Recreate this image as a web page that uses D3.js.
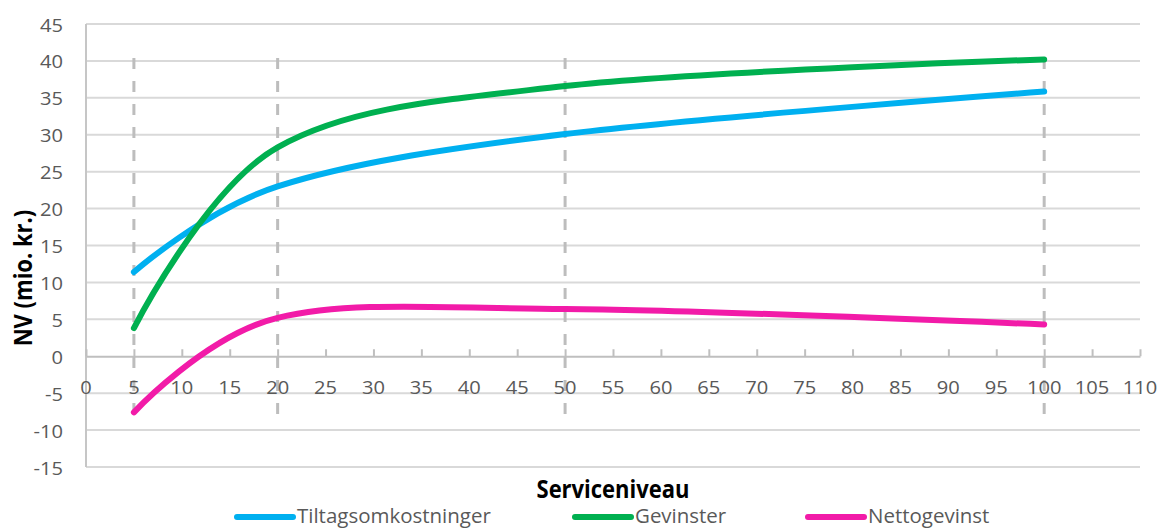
<!DOCTYPE html>
<html>
<head>
<meta charset="utf-8">
<script src="https://cdn.jsdelivr.net/npm/d3@7"></script>
<style>
  html, body { margin: 0; padding: 0; background: #fff; }
  svg { display: block; }
  text { font-family: "Open Sans", "Noto Sans", sans-serif; }
</style>
</head>
<body>
<svg id="chart" width="1160" height="529"></svg>
<script>
// Service level (x) at which each scenario was evaluated
const serviceLevels = [5, 20, 50, 100];

// Present value in million DKK per series
const tiltagsomkostninger = [11.4, 23.0, 30.1, 35.85];
const gevinster = [3.8, 28.3, 36.6, 40.2];
const nettogevinst = [-7.6, 5.2, 6.4, 4.3];

const seriesNames = ["Tiltagsomkostninger", "Gevinster", "Nettogevinst"];
const seriesValues = [tiltagsomkostninger, gevinster, nettogevinst];
const seriesColors = ["#00B0F0", "#00B050", "#F21BA8"];

// Axis ticks
const xTicks = [0, 5, 10, 15, 20, 25, 30, 35, 40, 45, 50, 55, 60, 65, 70, 75, 80, 85, 90, 95, 100, 105, 110];
const yTicks = [-15, -10, -5, 0, 5, 10, 15, 20, 25, 30, 35, 40, 45];

// Vertical reference lines at the evaluated service levels (value span)
const guideSpan = [-8.4, 40.4];

const xTitle = "Serviceniveau";
const yTitle = "NV (mio. kr.)";

const svg = d3.select("#chart");
const plot = { left: 86, right: 1140, top: 24, bottom: 467 };

const x = d3.scaleLinear().domain([0, 110]).range([plot.left, plot.right]);
const y = d3.scaleLinear().domain([-15, 45]).range([plot.bottom, plot.top]);

const labelColor = "#595959";

// Text helper: horizontally scaled glyphs to get the narrow-tall proportions
function label(parent, px, py, str, opts) {
  const o = Object.assign({ size: 17.5, weight: 400, sx: 1.15, anchor: "start", fill: labelColor, rotate: 0 }, opts);
  return parent.append("text")
    .attr("transform", `translate(${px},${py}) rotate(${o.rotate}) scale(${o.sx},1)`)
    .attr("text-anchor", o.anchor)
    .attr("font-size", o.size)
    .attr("font-weight", o.weight)
    .attr("fill", o.fill)
    .text(str);
}

// Horizontal gridlines
svg.append("g")
  .selectAll("line")
  .data(yTicks.filter(d => d !== 0))
  .join("line")
  .attr("x1", plot.left).attr("x2", plot.right)
  .attr("y1", d => y(d)).attr("y2", d => y(d))
  .attr("stroke", "#D9D9D9").attr("stroke-width", 2);

// Vertical value axis line
svg.append("line")
  .attr("x1", plot.left).attr("x2", plot.left)
  .attr("y1", plot.top).attr("y2", plot.bottom)
  .attr("stroke", "#C6C6C6").attr("stroke-width", 2);

// Horizontal category axis crossing at zero, with upward tick marks
const xAxis = d3.axisTop(x).tickValues(xTicks).tickSize(7).tickFormat("").tickSizeOuter(0);
const xAxisG = svg.append("g")
  .attr("transform", `translate(0,${y(0)})`)
  .call(xAxis);
xAxisG.select(".domain").attr("stroke", "#BFBFBF").attr("stroke-width", 2);
xAxisG.selectAll(".tick line").attr("stroke", "#BFBFBF").attr("stroke-width", 2);

// Dashed reference lines
svg.append("g")
  .selectAll("line")
  .data(serviceLevels)
  .join("line")
  .attr("x1", d => x(d)).attr("x2", d => x(d))
  .attr("y1", y(guideSpan[1])).attr("y2", y(guideSpan[0]))
  .attr("stroke", "#BDBDBD").attr("stroke-width", 3)
  .attr("stroke-dasharray", "11,12");

// Tick labels
const yLab = svg.append("g");
yTicks.forEach(t => label(yLab, 63, y(t) + 7.5, String(t), { anchor: "end" }));
const xLab = svg.append("g");
xTicks.forEach(t => label(xLab, x(t), y(0) + 38, String(t), { anchor: "middle" }));

// Series lines (smoothed)
const line = d3.line()
  .x((d, i) => x(serviceLevels[i]))
  .y(d => y(d))
  .curve(d3.curveCardinal.tension(0));

svg.append("g")
  .selectAll("path")
  .data(seriesValues)
  .join("path")
  .attr("d", d => line(d))
  .attr("fill", "none")
  .attr("stroke", (d, i) => seriesColors[i])
  .attr("stroke-width", 6)
  .attr("stroke-linecap", "round")
  .attr("stroke-linejoin", "round");

// Axis titles
label(svg, (plot.left + plot.right) / 2, 498, xTitle, { size: 25, weight: 700, sx: 0.88, anchor: "middle", fill: "#000" });
label(svg, 32, 278, yTitle, { size: 25, weight: 700, sx: 0.88, anchor: "middle", fill: "#000", rotate: -90 });

// Legend
const legendX = [237, 575, 808];
const legend = svg.append("g");
seriesNames.forEach((name, i) => {
  legend.append("line")
    .attr("x1", legendX[i]).attr("x2", legendX[i] + 56)
    .attr("y1", 517).attr("y2", 517)
    .attr("stroke", seriesColors[i]).attr("stroke-width", 6)
    .attr("stroke-linecap", "round");
  label(legend, legendX[i] + 60, 523, name, { size: 19.5, sx: 1.05 });
});
</script>
</body>
</html>
